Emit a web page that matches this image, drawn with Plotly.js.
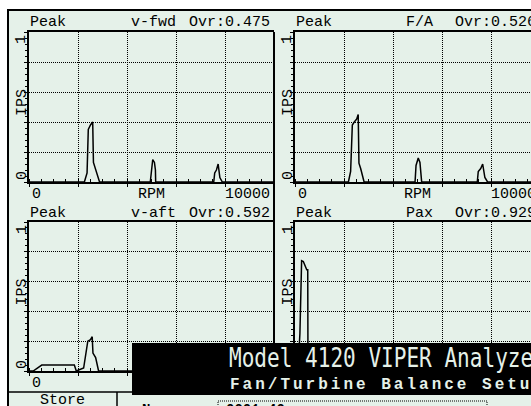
<!DOCTYPE html>
<html>
<head>
<meta charset="utf-8">
<script src="https://cdn.plot.ly/plotly-3.0.1.min.js"></script>
<style>
html,body{margin:0;padding:0;overflow:hidden;background:#fff;}
#chart{width:600px;height:406px;}
</style>
</head>
<body>
<div id="chart"></div>
<script>
// ---- data (RPM vs IPS spectra) ----
const channels = ["v-fwd", "F/A", "v-aft", "Pax"];
const overall = ["Ovr:0.475", "Ovr:0.526", "Ovr:0.592", "Ovr:0.929"];
const rpmFwd = [0, 2260, 2370, 2420, 2510, 2600, 2630, 2720, 2830, 2880, 4950, 5010, 5050, 5120, 5160, 5170, 7540, 7580, 7650, 7720, 7790, 7890, 10000];
const ipsFwd = [0, 0, 0.06, 0.35, 0.38, 0.40, 0.13, 0.08, 0.03, 0, 0, 0.11, 0.15, 0.13, 0.08, 0, 0, 0.06, 0.08, 0.12, 0.03, 0, 0];
const rpmFA = [0, 2180, 2270, 2340, 2420, 2520, 2580, 2610, 2680, 2790, 2820, 4900, 4940, 5030, 5100, 5170, 7440, 7480, 7580, 7660, 7750, 7860, 10000];
const ipsFA = [0, 0, 0.07, 0.38, 0.40, 0.42, 0.45, 0.125, 0.09, 0.03, 0, 0, 0.11, 0.16, 0.13, 0, 0, 0.07, 0.09, 0.12, 0.03, 0, 0];
const rpmAft = [0, 170, 520, 1850, 1930, 2230, 2400, 2510, 2580, 2610, 2720, 2810, 2840, 10000];
const ipsAft = [0, 0, 0.04, 0.04, 0, 0.02, 0.20, 0.21, 0.23, 0.12, 0.09, 0.02, 0, 0];
const rpmPax = [0, 120, 200, 270, 340, 410, 480, 520, 530, 10000];
const ipsPax = [0, 0, 0.25, 0.74, 0.735, 0.70, 0.68, 0.68, 0, 0];
const xTickLabels = ["0", "RPM", "10000"];
const yTickLabels = ["0", "1"];
const yTitle = "IPS";
const peakLabel = "Peak";
const headline = "Model 4120 VIPER Analyzer";
const subline = "Fan/Turbine Balance Setup";

// ---- layout helpers ----
const W = 600, H = 406;
const px = x => x / W, py = y => 1 - y / H;
const BG = "#e5f1e9";
const FONT = {family: "Liberation Mono, DejaVu Sans Mono, monospace", size: 15, color: "#000"};

const panels = [
  {x0: 29, x1: 274, y0: 32, y1: 182},
  {x0: 295, x1: 540, y0: 32, y1: 182},
  {x0: 29, x1: 274, y0: 222, y1: 371},
  {x0: 295, x1: 540, y0: 222, y1: 371}
];
const xs = [rpmFwd, rpmFA, rpmAft, rpmPax];
const ys = [ipsFwd, ipsFA, ipsAft, ipsPax];

const traces = [];
const layout = {
  width: W, height: H, autosize: false,
  margin: {l: 0, r: 0, t: 0, b: 0, pad: 0},
  paper_bgcolor: "#ffffff",
  plot_bgcolor: "rgba(0,0,0,0)",
  showlegend: false,
  shapes: [],
  annotations: []
};

function ann(text, x, y, opts) {
  return Object.assign({text: text, xref: "paper", yref: "paper", x: px(x), y: py(y),
    showarrow: false, xanchor: "center", yanchor: "middle", font: FONT}, opts || {});
}

panels.forEach((p, i) => {
  const n = i + 1;
  const xa = n === 1 ? "xaxis" : "xaxis" + n;
  const ya = n === 1 ? "yaxis" : "yaxis" + n;
  traces.push({
    type: "scatter", mode: "lines", x: xs[i], y: ys[i],
    xaxis: "x" + (n === 1 ? "" : n), yaxis: "y" + (n === 1 ? "" : n),
    line: {color: "#000", width: 1.5, shape: "linear"}, hoverinfo: "skip"
  });
  layout[xa] = {
    domain: [px(p.x0), px(p.x1)], range: [0, 10000], anchor: "y" + (n === 1 ? "" : n),
    tickvals: [0, 2000, 4000, 6000, 8000, 10000], showticklabels: false,
    ticks: "outside", ticklen: 3, tickwidth: 1, tickcolor: "#000",
    showgrid: true, gridcolor: "#000", gridwidth: 1, griddash: "1px,1px",
    zeroline: false, showline: true, linecolor: "#000", linewidth: 2, mirror: true,
    minor: {dtick: 500, tick0: 0, ticks: "inside", ticklen: 3, tickwidth: 1, tickcolor: "#000", showgrid: false},
    fixedrange: true
  };
  layout[ya] = {
    domain: [py(p.y1), py(p.y0)], range: [0, 1], anchor: "x" + (n === 1 ? "" : n),
    tickvals: [0, 0.2, 0.4, 0.6, 0.8, 1], showticklabels: false,
    ticks: "outside", ticklen: 3, tickwidth: 1, tickcolor: "#000",
    showgrid: true, gridcolor: "#000", gridwidth: 1, griddash: "1px,1px",
    zeroline: false, showline: true, linecolor: "#000", linewidth: 2,
    minor: {dtick: 0.04, tick0: 0, ticks: "outside", ticklen: 2, tickwidth: 1, tickcolor: "#000", showgrid: false},
    fixedrange: true
  };
  // header row
  layout.annotations.push(ann(peakLabel, p.x0 - 1, p.y0 - 9, {xanchor: "left"}));
  layout.annotations.push(ann(channels[i], (p.x0 + p.x1) / 2 + 2, p.y0 - 9));
  layout.annotations.push(ann(overall[i], p.x1 - 2, p.y0 - 9, {xanchor: "right"}));
  // y labels
  layout.annotations.push(ann(yTickLabels[1], p.x0 - 7, p.y0 + 8, {textangle: -90}));
  layout.annotations.push(ann(yTickLabels[0], p.x0 - 7, p.y1 - 6, {textangle: -90}));
  layout.annotations.push(ann(yTitle, p.x0 - 7, (p.y0 + p.y1) / 2 - 4, {textangle: -90}));
  // x labels
  layout.annotations.push(ann(xTickLabels[0], p.x0 + 1, p.y1 + 12, {xanchor: "left"}));
  layout.annotations.push(ann(xTickLabels[1], (p.x0 + p.x1) / 2, p.y1 + 12));
  layout.annotations.push(ann(xTickLabels[2], p.x1 - 2, p.y1 + 12, {xanchor: "right"}));
});

// frame & decorations
layout.shapes.push({type: "rect", xref: "paper", yref: "paper", layer: "below",
  x0: px(8), x1: px(W + 10), y0: py(H + 10), y1: py(10),
  fillcolor: BG, line: {color: "#000", width: 2}});
layout.shapes.push({type: "line", xref: "paper", yref: "paper", layer: "above",
  x0: px(274), x1: px(274), y0: py(32), y1: py(393), line: {color: "#000", width: 2}});
// store button separators
layout.shapes.push({type: "line", xref: "paper", yref: "paper", layer: "above",
  x0: px(8), x1: px(132), y0: py(392), y1: py(392), line: {color: "#000", width: 1.5}});
layout.shapes.push({type: "line", xref: "paper", yref: "paper", layer: "above",
  x0: px(117), x1: px(117), y0: py(392), y1: py(H + 5), line: {color: "#000", width: 1.5}});
// black title box
layout.shapes.push({type: "rect", xref: "paper", yref: "paper", layer: "above",
  x0: px(132), x1: px(W + 10), y0: py(395), y1: py(343),
  fillcolor: "#000", line: {color: "#000", width: 0}});
// dotted name field
layout.shapes.push({type: "rect", xref: "paper", yref: "paper", layer: "above",
  x0: px(218), x1: px(487), y0: py(H + 10), y1: py(401),
  fillcolor: "rgba(0,0,0,0)", line: {color: "#000", width: 1, dash: "1px,1px"}});

layout.annotations.push(ann(headline, 227, 357, {xanchor: "left", align: "left",
  font: {family: "DejaVu Sans Mono, monospace", size: 27, color: BG}}));
layout.annotations.push(ann(subline, 228, 385, {xanchor: "left", align: "left",
  font: {family: "Liberation Mono, monospace", size: 16, color: BG, weight: "bold"}}));
layout.annotations.push(ann("Store", 62, 400, {font: FONT}));
layout.annotations.push(ann("Name:", 140, 410, {xanchor: "left",
  font: {family: "Liberation Mono, monospace", size: 14, color: "#000", weight: "bold"}}));
layout.annotations.push(ann("0001 40", 224, 410, {xanchor: "left",
  font: {family: "Liberation Mono, monospace", size: 14, color: "#000", weight: "bold"}}));

Plotly.newPlot("chart", traces, layout, {staticPlot: true, displayModeBar: false}).then(() => {
  document.querySelectorAll("#chart text.annotation-text").forEach(t => {
    if (t.textContent === headline) {
      t.style.transformBox = "fill-box";
      t.style.transformOrigin = "left center";
      t.style.transform = "scaleX(0.78)";
    }
    if (t.textContent === subline) {
      t.style.letterSpacing = "3px";
    }
  });
});
</script>
</body>
</html>
